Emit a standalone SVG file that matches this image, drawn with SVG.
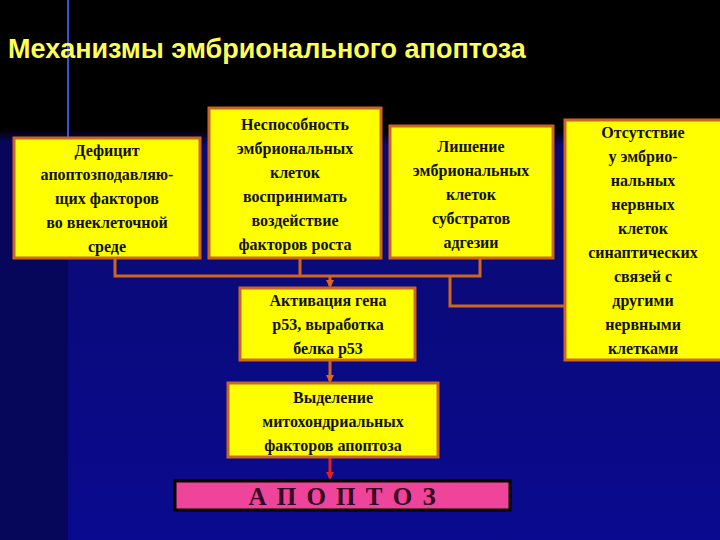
<svg xmlns="http://www.w3.org/2000/svg" width="720" height="540" viewBox="0 0 720 540">
<defs>
<linearGradient id="bg" x1="0" y1="0" x2="0" y2="1">
<stop offset="0" stop-color="#000000"/><stop offset="0.24" stop-color="#000000"/><stop offset="0.27" stop-color="#0a0a70"/><stop offset="1" stop-color="#0a0a90"/>
</linearGradient>
<marker id="ar" markerWidth="8" markerHeight="8" refX="6" refY="4" orient="auto" markerUnits="userSpaceOnUse"><path d="M0,0 L8,4 L0,8 z" fill="#dd6622"/></marker>
<marker id="arr" markerWidth="8" markerHeight="8" refX="6" refY="4" orient="auto" markerUnits="userSpaceOnUse"><path d="M0,0 L8,4 L0,8 z" fill="#dd2222"/></marker>
</defs>
<style>
.b{fill:#ffff00;stroke:#cc6622;stroke-width:3}
.t{font-family:"Liberation Serif",serif;font-weight:bold;font-size:16px;fill:#111;text-anchor:middle}
.c{fill:none;stroke:#cc6622;stroke-width:3}
</style>
<rect width="720" height="540" fill="url(#bg)"/>
<rect x="0" y="140" width="68" height="400" fill="#06065a"/>
<line x1="68" y1="0" x2="68" y2="140" stroke="#3355dd" stroke-width="2"/>
<text x="8" y="58" font-family="Liberation Sans,sans-serif" font-weight="bold" font-size="27" fill="#ffff55">Механизмы эмбрионального апоптоза</text>
<g id="connectors">
<path class="c" d="M115,258 V276 H480 V258 M300,258 V276"/>
<line class="c" x1="330" y1="276" x2="330" y2="286" marker-end="url(#ar)"/>
<path class="c" d="M565,306 H450 V276"/>
<line class="c" x1="330" y1="360" x2="330" y2="381" marker-end="url(#ar)"/>
<line x1="330" y1="457" x2="330" y2="478" stroke="#dd2222" stroke-width="3" marker-end="url(#arr)"/>
</g>
<g id="n1"><rect class="b" x="14" y="138" width="186" height="120"/>
<text class="t"><tspan x="107" y="156">Дефицит</tspan><tspan x="107" y="180">апоптозподавляю-</tspan><tspan x="107" y="204">щих факторов</tspan><tspan x="107" y="228">во внеклеточной</tspan><tspan x="107" y="252">среде</tspan></text></g>
<g id="n2"><rect class="b" x="209" y="108" width="172" height="150"/>
<text class="t"><tspan x="295" y="130">Неспособность</tspan><tspan x="295" y="154">эмбриональных</tspan><tspan x="295" y="178">клеток</tspan><tspan x="295" y="202">воспринимать</tspan><tspan x="295" y="226">воздействие</tspan><tspan x="295" y="250">факторов роста</tspan></text></g>
<g id="n3"><rect class="b" x="390" y="126" width="163" height="132"/>
<text class="t"><tspan x="471" y="152">Лишение</tspan><tspan x="471" y="176">эмбриональных</tspan><tspan x="471" y="200">клеток</tspan><tspan x="471" y="224">субстратов</tspan><tspan x="471" y="248">адгезии</tspan></text></g>
<g id="n4"><rect class="b" x="565" y="120" width="157" height="240"/>
<text class="t"><tspan x="643" y="138">Отсутствие</tspan><tspan x="643" y="162">у эмбрио-</tspan><tspan x="643" y="186">нальных</tspan><tspan x="643" y="210">нервных</tspan><tspan x="643" y="234">клеток</tspan><tspan x="643" y="258">синаптических</tspan><tspan x="643" y="282">связей с</tspan><tspan x="643" y="306">другими</tspan><tspan x="643" y="330">нервными</tspan><tspan x="643" y="354">клетками</tspan></text></g>
<g id="n5"><rect class="b" x="240" y="288" width="175" height="72"/>
<text class="t"><tspan x="328" y="306">Активация гена</tspan><tspan x="328" y="330">р53, выработка</tspan><tspan x="328" y="354">белка р53</tspan></text></g>
<g id="n6"><rect class="b" x="228" y="383" width="210" height="74"/>
<text class="t"><tspan x="333" y="403">Выделение</tspan><tspan x="333" y="427">митохондриальных</tspan><tspan x="333" y="451">факторов апоптоза</tspan></text></g>
<g id="n7"><rect x="175" y="481" width="335" height="29" fill="#ee4499" stroke="#000" stroke-width="3"/>
<text x="343" y="505" font-family="Liberation Serif,serif" font-weight="bold" font-size="25" fill="#330022" text-anchor="middle" letter-spacing="2">А П О П Т О З</text></g>
</svg>
